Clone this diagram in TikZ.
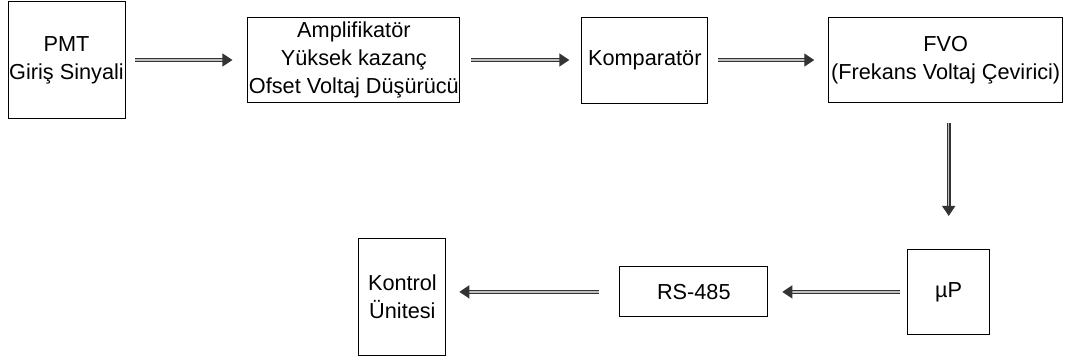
\documentclass[tikz,border=0pt]{standalone}
\usepackage{fontspec}
\setmainfont{Liberation Sans}
\usepackage{tikz}
\usetikzlibrary{arrows.meta, positioning}

\begin{document}
\begin{tikzpicture}[
    x=1pt, y=-1pt,
    block/.style={rectangle, draw=black, line width=0.9pt, fill=white, align=center, inner sep=1pt, font=\fontsize{21.7}{28}\selectfont},
    flow/.style={draw=black!80, line width=1.3pt, double=black!25, double distance=1.3pt, -{Triangle[width=13pt, length=10pt]}}
]
\useasboundingbox (0,0) rectangle (1070,360);

\node[block, minimum width=117pt, minimum height=117pt] (pmt) at (66.5,60) {PMT\\Giriş Sinyali};
\node[block, minimum width=212pt, minimum height=85pt, right=122pt of pmt] (amp) {Amplifikatör\\Yüksek kazanç\\Ofset Voltaj Düşürücü};
\node[block, minimum width=126pt, minimum height=86pt, right=121pt of amp] (komp) {Komparatör};
\node[block, minimum width=234pt, minimum height=85pt, right=120pt of komp] (fvo) {FVO\\(Frekans Voltaj Çevirici)};

\node[block, minimum width=82pt, minimum height=85pt, below=146pt of fvo, xshift=3pt] (mup) {µP};
\node[block, minimum width=148pt, minimum height=50pt, left=139pt of mup] (rs) {RS-485};
\node[block, minimum width=87pt, minimum height=117pt, left=173pt of rs, yshift=-5pt] (kontrol) {Kontrol\\Ünitesi};

% top row, left to right
\draw[flow, shorten <=10pt, shorten >=15pt] (pmt) -- (amp);
\draw[flow, shorten <=11pt, shorten >=12pt] (amp) -- (komp);
\draw[flow, shorten <=10pt, shorten >=14pt] (komp) -- (fvo);

% down to the processor, then back to the left
\draw[flow, shorten <=20pt, shorten >=33pt] (fvo.south -| mup.north) -- (mup.north);
\draw[flow, shorten <=7pt, shorten >=14pt] (mup) -- (rs);
\draw[flow, shorten <=20pt, shorten >=13pt] (rs) -- (rs -| kontrol.east);
\end{tikzpicture}
\end{document}
